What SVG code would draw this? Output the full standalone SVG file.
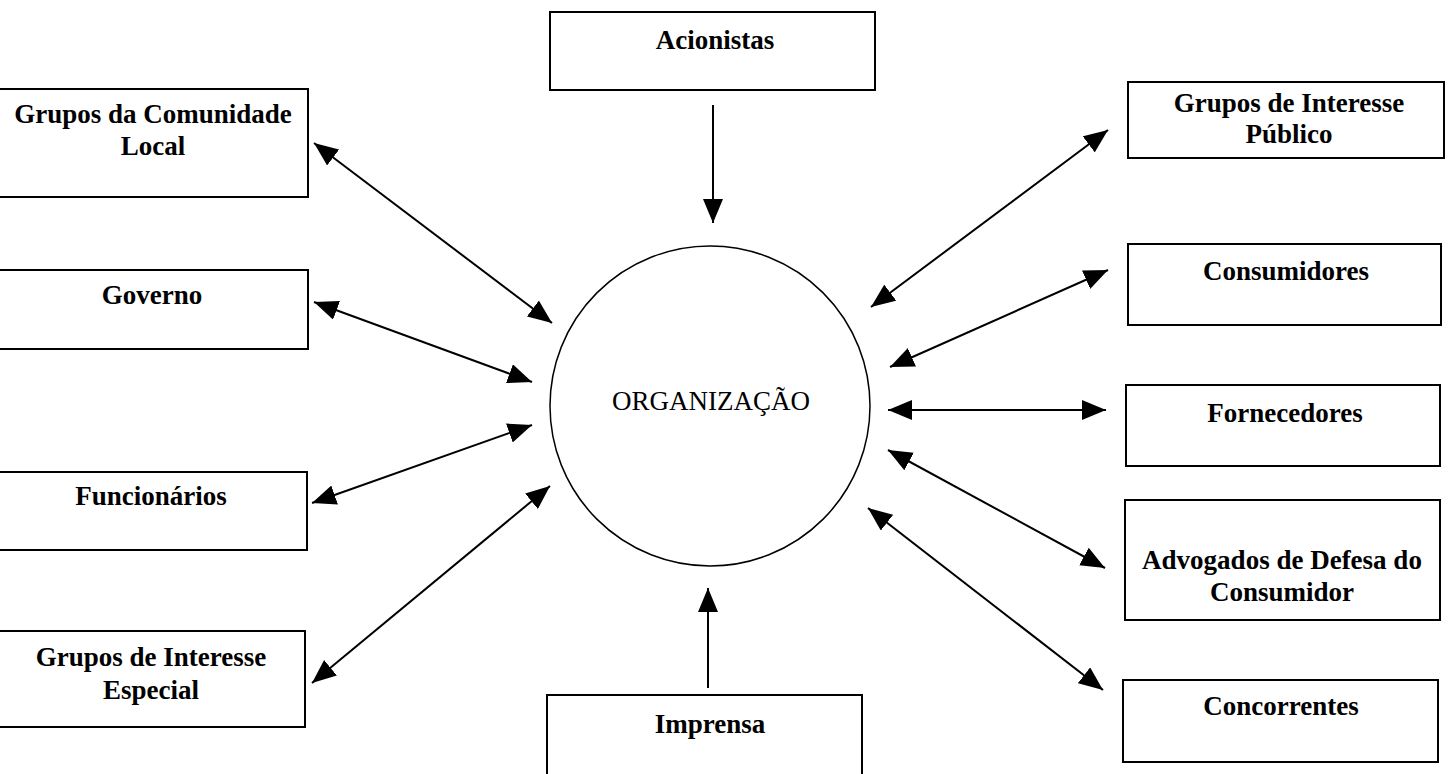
<svg xmlns="http://www.w3.org/2000/svg" width="1450" height="774" viewBox="0 0 1450 774">
  <style>
    .box { fill: #fff; stroke: #000; stroke-width: 2; }
    .lbl { font-family: "Liberation Serif", "Times New Roman", serif; font-weight: bold; font-size: 27px; fill: #000; text-anchor: middle; }
    .org { font-family: "Liberation Serif", "Times New Roman", serif; font-size: 27px; fill: #000; text-anchor: middle; }
    .link { stroke: #000; stroke-width: 2; fill: none; }
    .two { marker-start: url(#head); marker-end: url(#head); }
    .one { marker-end: url(#head); }
  </style>
  <defs>
    <marker id="head" viewBox="0 0 24 20" refX="24" refY="10" markerWidth="24" markerHeight="20" markerUnits="userSpaceOnUse" orient="auto-start-reverse">
      <path d="M0,0 L24,10 L0,20 Z" fill="#000"/>
    </marker>
  </defs>
  <rect width="1450" height="774" fill="#fff"/>

  <!-- central organisation -->
  <g id="organizacao">
    <circle cx="710" cy="406" r="160" fill="#fff" stroke="#000" stroke-width="1.5"/>
    <text class="org" x="711" y="410">ORGANIZAÇÃO</text>
  </g>

  <!-- stakeholders -->
  <g id="acionistas">
    <rect class="box" x="550" y="12" width="325" height="78"/>
    <text class="lbl" x="715" y="49">Acionistas</text>
  </g>
  <g id="comunidade">
    <rect class="box" x="-2" y="89" width="310" height="108"/>
    <text class="lbl" x="153" y="123">Grupos da Comunidade</text>
    <text class="lbl" x="153" y="155">Local</text>
  </g>
  <g id="governo">
    <rect class="box" x="-2" y="270" width="310" height="79"/>
    <text class="lbl" x="152" y="304">Governo</text>
  </g>
  <g id="funcionarios">
    <rect class="box" x="-2" y="472" width="309" height="78"/>
    <text class="lbl" x="151" y="505">Funcionários</text>
  </g>
  <g id="interesse-especial">
    <rect class="box" x="-2" y="631" width="307" height="96"/>
    <text class="lbl" x="151" y="666">Grupos de Interesse</text>
    <text class="lbl" x="151" y="699">Especial</text>
  </g>
  <g id="imprensa">
    <rect class="box" x="547" y="695" width="315" height="100"/>
    <text class="lbl" x="710" y="733">Imprensa</text>
  </g>
  <g id="interesse-publico">
    <rect class="box" x="1128" y="82" width="316" height="76"/>
    <text class="lbl" x="1289" y="112">Grupos de Interesse</text>
    <text class="lbl" x="1289" y="143">Público</text>
  </g>
  <g id="consumidores">
    <rect class="box" x="1128" y="244" width="313" height="81"/>
    <text class="lbl" x="1286" y="280">Consumidores</text>
  </g>
  <g id="fornecedores">
    <rect class="box" x="1126" y="385" width="314" height="81"/>
    <text class="lbl" x="1285" y="422">Fornecedores</text>
  </g>
  <g id="advogados">
    <rect class="box" x="1125" y="500" width="315" height="120"/>
    <text class="lbl" x="1282" y="569">Advogados de Defesa do</text>
    <text class="lbl" x="1282" y="601">Consumidor</text>
  </g>
  <g id="concorrentes">
    <rect class="box" x="1123" y="680" width="315" height="82"/>
    <text class="lbl" x="1281" y="715">Concorrentes</text>
  </g>

  <!-- connectors -->
  <g id="connectors">
    <line class="link one" x1="713" y1="105" x2="713" y2="223"/>
    <line class="link one" x1="708" y1="688" x2="708" y2="588"/>
    <line class="link two" x1="314" y1="143" x2="552" y2="323"/>
    <line class="link two" x1="314" y1="302" x2="532" y2="382"/>
    <line class="link two" x1="312" y1="503" x2="532" y2="425"/>
    <line class="link two" x1="312" y1="683" x2="550" y2="486"/>
    <line class="link two" x1="1108" y1="130" x2="871" y2="307"/>
    <line class="link two" x1="1108" y1="270" x2="890" y2="367"/>
    <line class="link two" x1="888" y1="410" x2="1106" y2="410"/>
    <line class="link two" x1="888" y1="450" x2="1105" y2="568"/>
    <line class="link two" x1="868" y1="508" x2="1103" y2="690"/>
  </g>
</svg>
